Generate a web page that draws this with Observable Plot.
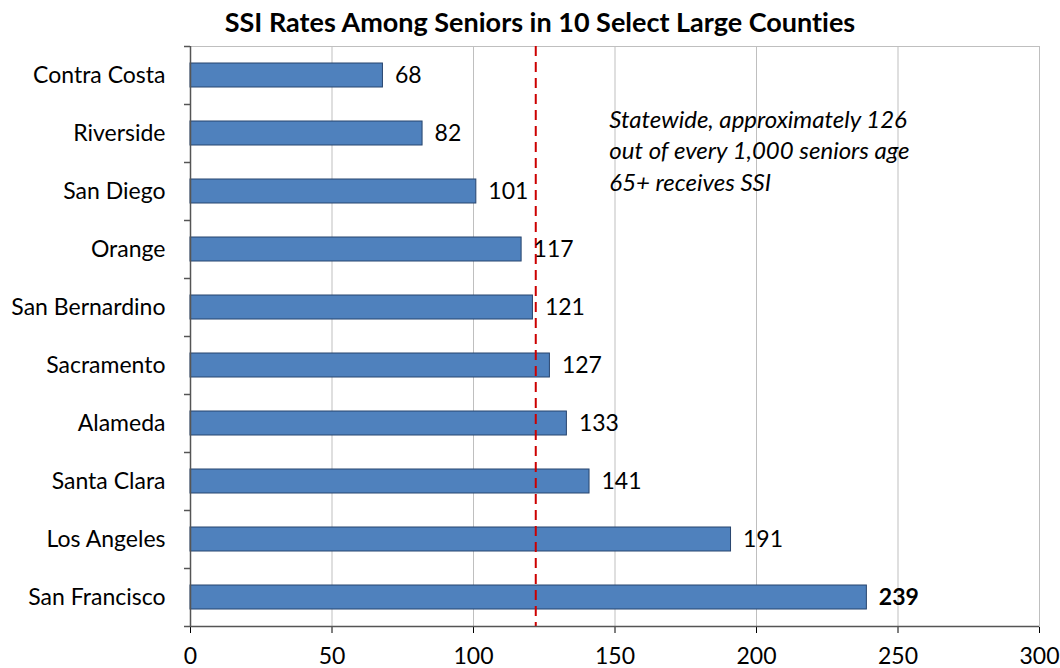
<!DOCTYPE html>
<html><head><meta charset="utf-8">
<script src="https://cdn.jsdelivr.net/npm/d3@7"></script>
<script src="https://cdn.jsdelivr.net/npm/@observablehq/plot@0.6"></script>
<style>
body{margin:0;background:#fff;font-family:Lato,"Open Sans",sans-serif;font-variant-ligatures:none;}
svg, svg text{font-variant-ligatures:none;}
#title{height:40px;line-height:44px;text-align:center;font-weight:bold;font-size:27px;color:#000;padding-left:20px;box-sizing:border-box;width:1060px;font-variant-ligatures:none;}
</style></head><body>
<div id="title">SSI Rates Among Seniors in 10 Select Large Counties</div>
<div id="chart"></div>
<script>
const counties = ["Contra Costa","Riverside","San Diego","Orange","San Bernardino","Sacramento","Alameda","Santa Clara","Los Angeles","San Francisco"];
const rates = [68,82,101,117,121,127,133,141,191,239];
const xTicks = [0,50,100,150,200,250,300];
const statewideLine = 122;
const annotation = "Statewide, approximately 126\nout of every 1,000 seniors age\n65+ receives SSI";

const data = counties.map((c,i)=>({county:c, rate:rates[i]}));
const last = counties[counties.length-1];

const plot = Plot.plot({
  width:1060, height:628,
  marginTop:6, marginBottom:42, marginLeft:190, marginRight:21,
  style:{fontFamily:"Lato, 'Open Sans', sans-serif", fontSize:"23px", color:"#000", background:"#fff"},
  x:{domain:[0,300], ticks:xTicks, label:null, tickSize:7, tickPadding:14},
  y:{domain:counties, paddingInner:0.586, paddingOuter:0.293, label:null, tickSize:0, tickPadding:25},
  marks:[
    Plot.frame({stroke:"#bfbfbf"}),
    Plot.ruleX(xTicks.filter(d=>d>0), {stroke:"#bfbfbf", strokeWidth:1}),
    Plot.barX(data, {x:"rate", y:"county", fill:"#4F81BD", stroke:"#27446E", strokeWidth:1}),
    Plot.ruleX([statewideLine], {stroke:"#CC0000", strokeWidth:2, strokeDasharray:"10,6"}),
    Plot.text(data.filter(d=>d.county!==last), {x:"rate", y:"county", text:d=>String(d.rate), dx:12, textAnchor:"start", fill:"#000", fontSize:23}),
    Plot.text(data.filter(d=>d.county===last), {x:"rate", y:"county", text:d=>String(d.rate), dx:12, textAnchor:"start", fill:"#000", fontWeight:"bold", fontSize:23}),
    Plot.text([annotation], {x:148, y:()=>counties[1], text:d=>d, dy:16, textAnchor:"start", lineHeight:1.3, fontStyle:"italic", fill:"#000", fontSize:24}),
    Plot.ruleX([0], {stroke:"#555", strokeWidth:1.5}),
    Plot.ruleY(counties, {y:d=>d, dy:29, x1:0, x2:0, insetLeft:-6, stroke:"#555", strokeWidth:1.5}),
    Plot.ruleY([counties[0]], {y:d=>d, dy:-29, x1:0, x2:0, insetLeft:-6, stroke:"#555", strokeWidth:1.5}),
    Plot.ruleY([last], {y:d=>d, dy:29, stroke:"#555", strokeWidth:1.5})
  ]
});
document.getElementById("chart").appendChild(plot);
</script>
</body></html>
